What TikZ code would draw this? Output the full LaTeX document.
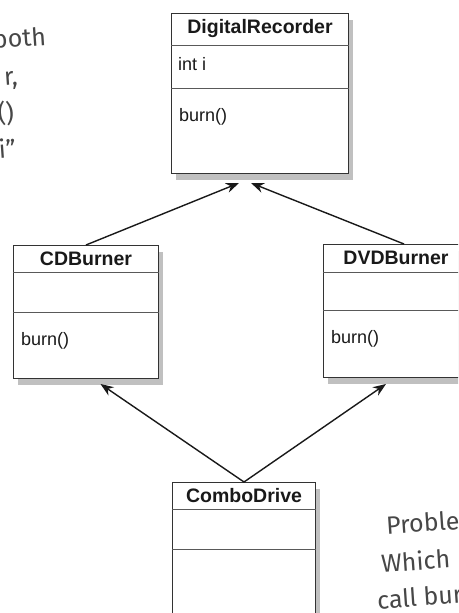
\documentclass[tikz,border=0pt]{standalone}
\usepackage{fontspec}
\setmainfont{Liberation Sans}
\newfontfamily\notefont{Fira Sans}
\usetikzlibrary{arrows.meta,calc,shadows}
\tikzset{
  classbox/.style   = {draw=black!80,line width=1pt,fill=white,inner sep=0pt,
                       drop shadow={shadow xshift=4pt,shadow yshift=-6pt,fill=black!45,opacity=.55}},
  sepline/.style    = {black!65,line width=0.8pt},
  classtitle/.style = {font=\fontsize{19.5}{23}\selectfont\bfseries,text=black!90,inner sep=0pt},
  classtext/.style  = {font=\fontsize{18}{21}\selectfont,text=black!90,inner sep=0pt,anchor=west},
  inherit/.style    = {-{Stealth[length=13pt,width=10pt]},line width=1.4pt,black!90},
  note/.style       = {font=\notefont\fontsize{25}{29}\selectfont,text=black!72,inner sep=0pt,rotate=4}
}
% name, left, top, width, height, first rule, second rule, title, method
\newcommand{\umlclass}[9]{%
  \node[classbox,anchor=north west,minimum width=#4,minimum height=#5] (#1) at (#2,#3) {};
  \draw[sepline] ($(#1.north west)+(0,#6)$) -- ($(#1.north east)+(0,#6)$);
  \draw[sepline] ($(#1.north west)+(0,#7)$) -- ($(#1.north east)+(0,#7)$);
  \node[classtitle] (#1-name) at ($(#1.north)+(0,#6/2)$) {#8};
  \node[classtext] (#1-ops) at ($(#1.north west)+(8,#7+29)$) {#9};
}

\begin{document}
\begin{tikzpicture}[x=1pt,y=-1pt]
  \useasboundingbox (0,0) rectangle (458,613);
  \clip (0,0) rectangle (458,613);
  \umlclass{dr}{171}{13}{177}{160}{32}{75}{DigitalRecorder}{burn()}
  \node[classtext] (dr-field) at ($(dr.north west)+(7,51)$) {int i};
  \umlclass{cd}{13}{245}{145}{133}{27}{67}{CDBurner}{burn()}
  \umlclass{dvd}{323}{244}{145}{133}{28}{66}{DVDBurner}{burn()}
  \umlclass{combo}{172}{482}{143}{160}{27}{67}{ComboDrive}{}
  \draw[inherit] (cd.north)                -- ($(dr.south)+(-21,9)$);
  \draw[inherit] ($(dvd.north)+(8,0)$)     -- ($(dr.south)+(-9,9)$);
  \draw[inherit] (combo.north) -- ($(cd.south)+(14.5,5)$);
  \draw[inherit] (combo.north) -- ($(dvd.south)+(-10,6)$);
  % scribbles at the edges
  \node[note,anchor=east] (n1) at (46,36)  {both};
  \node[note,anchor=east] (n2) at (18,80)  {r,};
  \node[note,anchor=east] (n3) at (14,113) {()};
  \node[note,anchor=east] (n4) at (16,148) {“i”};
  \node[note,anchor=west] (n5) at (386,525) {Proble};
  \node[note,anchor=west] (n6) at (381,563) {Which};
  \node[note,anchor=west] (n7) at (377,600) {call bur};
\end{tikzpicture}
\end{document}
